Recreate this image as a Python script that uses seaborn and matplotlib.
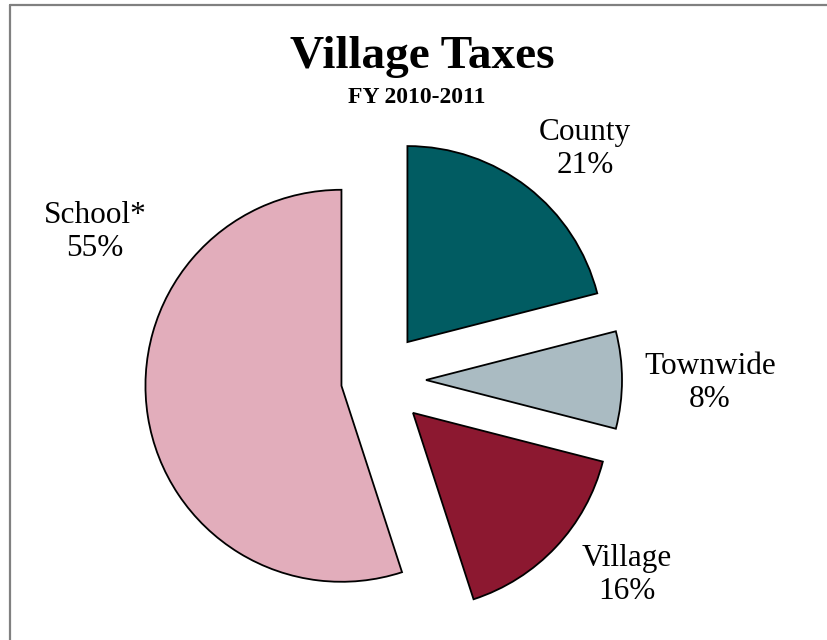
import matplotlib
matplotlib.use("Agg")
import matplotlib.pyplot as plt
import seaborn as sns

# Data
categories = ["County", "Townwide", "Village", "School*"]
shares = [21, 8, 16, 55]
colors = ["#015c62", "#aabbc2", "#8c1830", "#e2adbb"]
explode = [48, 48, 48, 37]

sns.set_theme(style="white")
plt.rcParams['font.family'] = ['Liberation Serif', 'DejaVu Serif']
plt.rcParams['text.color'] = 'black'

fig = plt.figure(figsize=(8.28, 6.4), dpi=100)
ax = fig.add_axes([0, 0, 1, 1])
ax.set_aspect('equal')
ax.axis('off')

wedges, _ = ax.pie(shares, colors=colors, explode=explode, startangle=90,
                   counterclock=False, radius=196, center=(378, 260),
                   wedgeprops=dict(edgecolor="black", linewidth=1.3))
ax.set_xlim(0, 828)
ax.set_ylim(0, 640)

# labels
label_pos = [(585, 491), (710, 257), (627, 65), (95, 408)]
for name, val, (x, y) in zip(categories, shares, label_pos):
    ax.text(x, y, f"{name}\n{val}%", ha="center", va="center",
            fontsize=22.5, linespacing=1.15, color="black")

fig.text(422 / 828, 1 - 68 / 640, "Village Taxes", ha="center", va="baseline",
         fontsize=34, fontweight="bold", color="black")
fig.text(417 / 828, 1 - 103 / 640, "FY 2010-2011", ha="center", va="baseline",
         fontsize=17, fontweight="bold", color="black")

# frame (top and left edges visible)
fig.add_artist(plt.Line2D([9.5 / 828, 9.5 / 828], [0, 1 - 4.5 / 640],
                          transform=fig.transFigure, color="#808080", lw=1.6))
fig.add_artist(plt.Line2D([9.5 / 828, 1], [1 - 4.5 / 640, 1 - 4.5 / 640],
                          transform=fig.transFigure, color="#808080", lw=1.6))

fig.savefig("out.png", dpi=100)
